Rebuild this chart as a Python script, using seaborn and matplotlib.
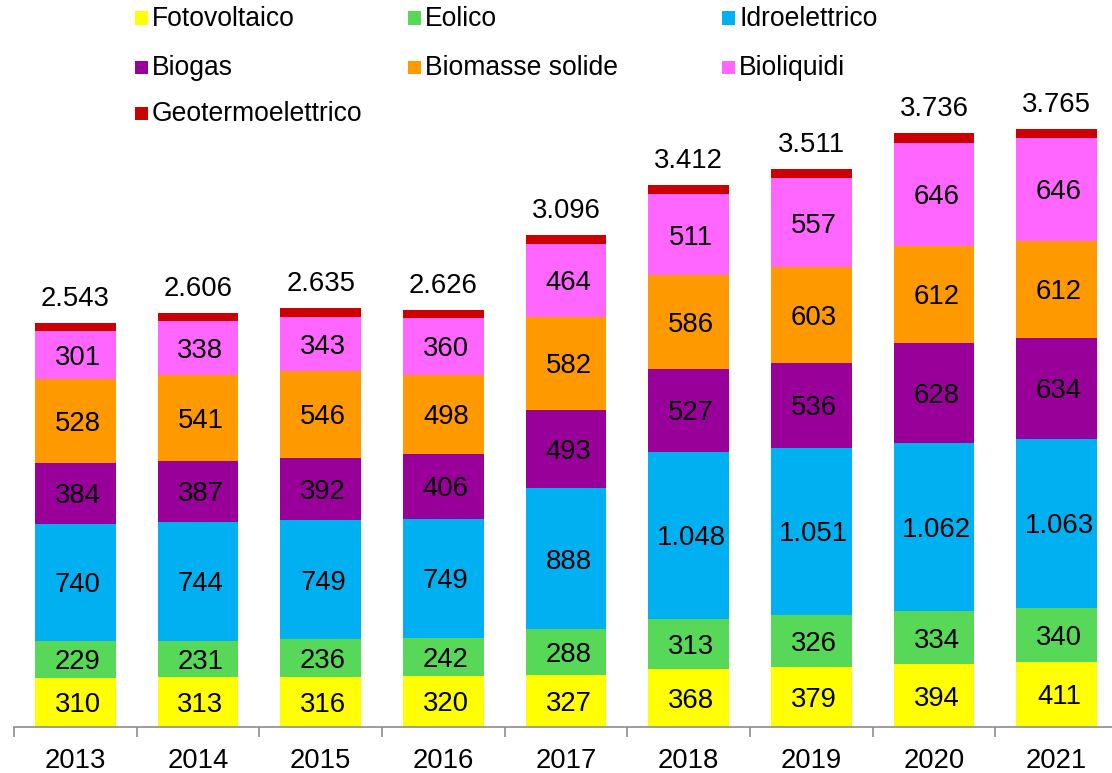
import matplotlib
matplotlib.use("Agg")
import matplotlib.pyplot as plt
from matplotlib.patches import Rectangle
import seaborn as sns
import numpy as np

sns.set_theme(style="white")
plt.rcParams["font.family"] = ["Liberation Sans", "DejaVu Sans"]

years = ["2013", "2014", "2015", "2016", "2017", "2018", "2019", "2020", "2021"]
fotovoltaico = [310, 313, 316, 320, 327, 368, 379, 394, 411]
eolico = [229, 231, 236, 242, 288, 313, 326, 334, 340]
idroelettrico = [740, 744, 749, 749, 888, 1048, 1051, 1062, 1063]
biogas = [384, 387, 392, 406, 493, 527, 536, 628, 634]
biomasse_solide = [528, 541, 546, 498, 582, 586, 603, 612, 612]
bioliquidi = [301, 338, 343, 360, 464, 511, 557, 646, 646]
geotermoelettrico = [51, 52, 53, 51, 54, 59, 59, 60, 59]
totals = [2543, 2606, 2635, 2626, 3096, 3412, 3511, 3736, 3765]

series = [
    ("Fotovoltaico", fotovoltaico, "#FFFF00", True),
    ("Eolico", eolico, "#58D858", True),
    ("Idroelettrico", idroelettrico, "#00B0F0", True),
    ("Biogas", biogas, "#990099", True),
    ("Biomasse solide", biomasse_solide, "#FF9900", True),
    ("Bioliquidi", bioliquidi, "#FF66FF", True),
    ("Geotermoelettrico", geotermoelettrico, "#CC0000", False),
]

LABEL_SIZE = 19.8
LEGEND_SIZE = 19.1


def fmt(v):
    return f"{v:,}".replace(",", ".")


fig = plt.figure(figsize=(11.12, 7.73), dpi=100)
ax = fig.add_axes([14 / 1112, 46 / 773, 1104 / 1112, 727 / 773])

bottom = np.zeros(len(years))
for name, vals, color, labelled in series:
    vals = np.array(vals, dtype=float)
    sns.barplot(x=years, y=vals, bottom=bottom, color=color, saturation=1,
                width=0.66, ax=ax, linewidth=0)
    if labelled:
        for i, (v, b) in enumerate(zip(vals, bottom)):
            ax.text(i + 0.02, b + v / 2 - 18, fmt(int(v)), ha="center", va="center",
                    fontsize=LABEL_SIZE, color="black")
    bottom += vals

for i, t in enumerate(totals):
    ax.text(i, bottom[i] + 107, fmt(t), ha="center", va="baseline",
            fontsize=LABEL_SIZE, color="black")

ax.set_xlim(-0.5, len(years) - 0.5)
ax.set_ylim(0, 4575)
ax.set_yticks([])
ax.set_ylabel("")
for s in ["top", "right", "left"]:
    ax.spines[s].set_visible(False)
ax.spines["bottom"].set_color("#8c8c8c")
ax.spines["bottom"].set_linewidth(1.2)
ax.set_xticks(np.arange(-0.5, len(years) + 0.5, 1.0), minor=True)
ax.tick_params(axis="x", which="minor", bottom=True, length=7, width=1.2,
               color="#8c8c8c")
ax.tick_params(axis="x", which="major", bottom=False, length=0, pad=15,
               labelsize=LABEL_SIZE, labelcolor="black")

# legend laid out in three fixed columns
col_x = [135, 408, 722]
row_y = [18, 67, 113]
for k, (name, vals, color, labelled) in enumerate(series):
    r, c = divmod(k, 3)
    x0, yc = col_x[c], row_y[r]
    fig.patches.append(Rectangle((x0 / 1112, 1 - (yc + 6.5) / 773), 13 / 1112, 13 / 773,
                                 transform=fig.transFigure, facecolor=color,
                                 edgecolor="none"))
    fig.text((x0 + 17) / 1112, 1 - (yc + 1) / 773, name, ha="left", va="center",
             fontsize=LEGEND_SIZE, color="black")

fig.savefig("out.png", dpi=100)
